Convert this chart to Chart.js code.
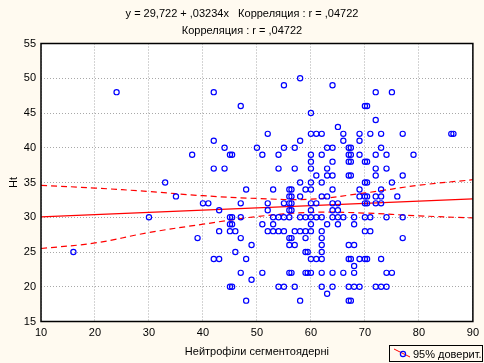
<!DOCTYPE html>
<html>
<head>
<meta charset="utf-8">
<script src="https://cdn.jsdelivr.net/npm/chart.js@4/dist/chart.umd.min.js"></script>
<style>
  html, body { margin: 0; padding: 0; background: #fffaf0; }
  canvas { display: block; }
</style>
</head>
<body>
<canvas id="myChart" width="484" height="363"></canvas>
<script>
// Нейтрофіли сегментоядерні (x) vs Ht (y)
const neutX = [
    16, 24, 30, 33, 35, 38, 39, 40, 41,
    42, 42, 42, 42, 43, 43, 43, 44, 44,
    45, 45.4, 45, 45.4, 45, 45.4, 45, 45, 45.4, 46, 46,
    47, 47, 47, 47, 47, 48, 48, 48, 49, 49, 50,
    51, 51, 51, 52, 52, 52, 52, 53, 53, 53, 53,
    54, 54, 54, 54, 54, 55, 55, 55, 55, 55, 55,
    56, 56.4, 56, 56.4, 56, 56.4, 56, 56.4, 56, 56, 56.4, 56, 56, 56.4,
    57, 57, 57, 57, 57, 58, 58, 58, 58, 58, 58, 58,
    59, 59, 59, 59, 59, 59.4, 59, 59.4,
    60, 60, 60, 60, 60, 60, 60, 60, 60, 60, 60, 60, 60, 60,
    61, 61, 61, 61, 61,
    62, 62, 62, 62, 62, 62, 62, 62, 62, 62, 62, 62,
    63, 63, 63, 63, 63, 63,
    64, 64, 64, 64, 64, 64, 64, 64, 64, 64,
    65, 65, 65, 65, 65, 66, 66, 66, 66,
    67, 67.4, 67, 67.4, 67, 67.4, 67, 67.4, 67, 67, 67.4, 67, 67, 67.4,
    68, 68, 68, 68, 68, 68,
    69, 69, 69, 69, 69, 69, 69,
    70, 70.4, 70, 70.4, 70, 70.4, 70, 70.4, 70, 70.4, 70, 70, 70, 70.4,
    71, 71, 71, 72, 72, 72, 72, 72, 72, 72, 72,
    73, 73, 73, 73, 73, 73, 73, 74, 74, 74, 74, 74,
    75, 75, 75, 76, 77, 77, 77, 77, 79, 86, 86.4
];
const htY = [
    25, 48, 30, 35, 33, 39, 27, 32, 32,
    48, 41, 37, 24, 31, 28, 24, 40, 37,
    39, 39, 30, 30, 29, 29, 28, 20, 20, 28, 25,
    46, 32, 30, 27, 22, 34, 24, 18, 26, 21, 40,
    39, 29, 22, 42, 32, 31, 28, 34, 30, 29, 28,
    39, 37, 30, 28, 20, 49, 40, 32, 30, 28, 20,
    34, 34, 33, 33, 32, 32, 31, 31, 30, 27, 27, 26, 22, 22,
    40, 37, 28, 26, 20, 50, 41, 35, 33, 30, 28, 18,
    34, 30, 28, 27, 25, 25, 22, 22,
    45, 42, 39, 38, 37, 35, 34, 32, 31, 30, 29, 28, 24, 22,
    42, 36, 32, 30, 24,
    42, 39, 35, 33, 30, 28, 27, 26, 25, 24, 22, 20,
    40, 37, 36, 33, 29, 19,
    49, 40, 38, 36, 34, 32, 31, 30, 22, 20,
    43, 32, 31, 30, 29, 42, 41, 30, 22,
    40, 40, 39, 39, 38, 38, 36, 36, 26, 24, 24, 20, 18, 18,
    30, 29, 26, 23, 22, 20,
    42, 41, 39, 34, 33, 24, 20,
    46, 46, 38, 38, 35, 35, 33, 33, 32, 32, 30, 28, 24, 24,
    42, 30, 28, 48, 44, 39, 37, 36, 33, 32, 20,
    42, 40, 34, 33, 32, 24, 20, 39, 37, 30, 22, 20,
    48, 35, 22, 33, 42, 36, 30, 27, 39, 42, 42
];

// regression line and 95% band, read at the plot edges / gridlines
const fitX = [10, 90];
const fitY = [30.05, 32.63];
const bandX = [10, 20, 30, 40, 50, 60, 70, 80, 90];
const bandUpper = [34.6, 34.2, 33.7, 33.1, 32.7, 32.6, 33.5, 34.6, 35.4];
const bandLower = [25.5, 26.3, 27.8, 29.0, 30.1, 30.7, 30.6, 30.2, 29.9];

const titleLines = ['y = 29,722 + ,03234x   Корреляция : r = ,04722', 'Корреляция : r = ,04722'];
const xTitle = 'Нейтрофіли сегментоядерні';
const yTitle = 'Ht';
const legendText = '95% довеpит.';

const FONT = '"Liberation Sans", Arial, sans-serif';

const toPoints = (xs, ys) => xs.map((x, i) => ({x: x, y: ys[i]}));

// background, frame, titles and the little legend box
const decor = {
    id: 'decor',
    beforeDraw(chart) {
        const {ctx, chartArea: a} = chart;
        ctx.save();
        ctx.fillStyle = '#fffaf0';
        ctx.fillRect(0, 0, chart.width, chart.height);
        ctx.fillStyle = '#ffffff';
        ctx.fillRect(a.left, a.top, a.right - a.left, a.bottom - a.top);
        ctx.restore();
    },
    afterDraw(chart) {
        const {ctx, chartArea: a} = chart;
        ctx.save();
        ctx.strokeStyle = '#000';
        ctx.lineWidth = 1.5;
        ctx.strokeRect(a.left, a.top, a.right - a.left, a.bottom - a.top);

        ctx.fillStyle = '#000';
        ctx.font = '11px ' + FONT;
        ctx.textAlign = 'center';
        ctx.textBaseline = 'middle';
        ctx.fillText(titleLines[0], 242, 14);
        ctx.fillText(titleLines[1], 242, 31);

        // legend
        ctx.lineWidth = 1;
        ctx.strokeRect(389.5, 345.5, 93, 16);
        ctx.strokeStyle = '#ff0000';
        ctx.beginPath();
        ctx.moveTo(394, 349);
        ctx.lineTo(410, 357);
        ctx.stroke();
        ctx.strokeStyle = '#0000ff';
        ctx.lineWidth = 1.2;
        ctx.beginPath();
        ctx.arc(403, 354, 2.6, 0, Math.PI * 2);
        ctx.stroke();
        ctx.textAlign = 'left';
        ctx.fillText(legendText, 413, 354.5);
        ctx.restore();
    }
};

const config = {
    type: 'scatter',
    data: {
        datasets: [
            {
                label: 'points',
                data: toPoints(neutX, htY),
                borderColor: '#0000ff',
                backgroundColor: 'rgba(0,0,0,0)',
                borderWidth: 1.2,
                pointRadius: 2.6,
                pointHoverRadius: 2.6,
            },
            {
                label: 'fit',
                data: toPoints(fitX, fitY),
                showLine: true,
                borderColor: '#ff0000',
                borderWidth: 1.3,
                pointRadius: 0,
            },
            {
                label: 'upper',
                data: toPoints(bandX, bandUpper),
                showLine: true,
                borderColor: '#ff0000',
                borderWidth: 1.2,
                borderDash: [6, 4],
                tension: 0.4,
                pointRadius: 0,
            },
            {
                label: 'lower',
                data: toPoints(bandX, bandLower),
                showLine: true,
                borderColor: '#ff0000',
                borderWidth: 1.2,
                borderDash: [6, 4],
                tension: 0.4,
                pointRadius: 0,
            }
        ]
    },
    options: {
        responsive: false,
        animation: false,
        devicePixelRatio: 1,
        layout: {padding: {top: 43.5, right: 10, bottom: 0, left: 0}},
        plugins: {
            legend: {display: false},
            tooltip: {enabled: false}
        },
        scales: {
            x: {
                type: 'linear',
                min: 10,
                max: 90,
                ticks: {stepSize: 10, color: '#000', padding: 5, font: {family: FONT, size: 11}},
                grid: {color: '#a8a8a8', lineWidth: 1, drawTicks: false, tickLength: 0},
                border: {display: false, dash: [1, 2]},
                title: {display: true, text: xTitle, color: '#000', font: {family: FONT, size: 11}, padding: {top: 0, bottom: 4.4}},
                afterFit: (scale) => { scale.height = 41.5; }
            },
            y: {
                min: 15,
                max: 55,
                ticks: {stepSize: 5, color: '#000', padding: 5, font: {family: FONT, size: 11}},
                grid: {color: '#a8a8a8', lineWidth: 1, drawTicks: false, tickLength: 0},
                border: {display: false, dash: [1, 2]},
                title: {display: true, text: yTitle, color: '#000', font: {family: FONT, size: 11}, padding: {top: 7.4, bottom: 0}},
                afterFit: (scale) => { scale.width = 41; }
            }
        }
    },
    plugins: [decor]
};

const myChart = new Chart(document.getElementById('myChart'), config);
</script>
</body>
</html>
